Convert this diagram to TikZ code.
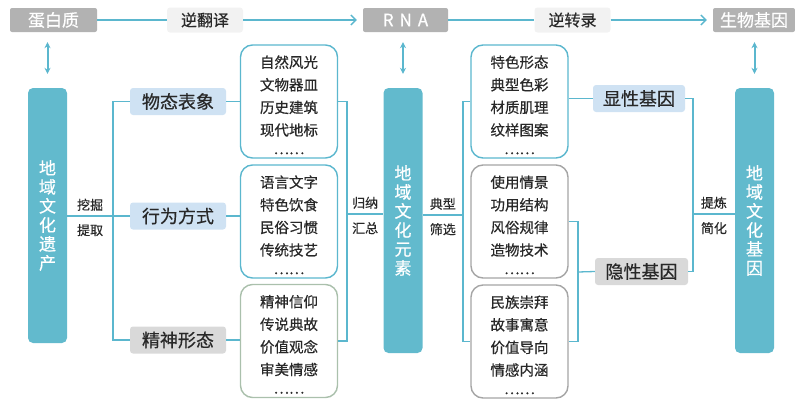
\documentclass[tikz,border=0pt]{standalone}
\usepackage{fontspec}
\setmainfont{Noto Sans CJK SC}[FakeBold=0.5]
\usetikzlibrary{arrows.meta,positioning,calc}
\definecolor{barTeal}{RGB}{98,186,205}
\definecolor{lineTeal}{RGB}{91,183,206}
\definecolor{catBlue}{RGB}{207,226,243}
\definecolor{catGray}{RGB}{217,217,217}
\definecolor{topGray}{RGB}{178,178,178}
\definecolor{lblGray}{RGB}{242,242,242}
\definecolor{boxGreen}{RGB}{170,192,172}
\definecolor{boxGray}{RGB}{165,165,165}
\definecolor{ink}{RGB}{40,40,40}

\tikzset{
  topbox/.style={fill=topGray, text=white, rounded corners=2pt, minimum height=24pt, inner sep=0pt, font=\fontsize{17}{20}\selectfont},
  steplabel/.style={fill=lblGray, text=ink, rounded corners=3pt, minimum width=76pt, minimum height=25pt, inner sep=0pt, font=\fontsize{16}{18}\selectfont},
  bar/.style={fill=barTeal, text=white, rounded corners=5pt, minimum width=39pt, inner sep=0pt, align=center, font=\fontsize{17}{#1}\selectfont},
  cat/.style={fill=#1, text=ink, rounded corners=3pt, minimum width=96pt, minimum height=27pt, inner sep=0pt, font=\fontsize{18}{20}\selectfont},
  listbox/.style={draw=#1, line width=1.4pt, fill=white, text=ink, rounded corners=12pt, minimum width=97pt, minimum height=113pt, inner sep=0pt, align=center, font=\fontsize{14.5}{22.6}\selectfont},
  link/.style={draw=lineTeal, line width=1.3pt},
  dbl/.style={draw=lineTeal, line width=2pt, {Stealth[length=6pt,width=6pt]}-{Stealth[length=6pt,width=6pt]}},
  side/.style={text=ink, inner sep=0pt, font=\fontsize{13}{15}\selectfont}
}

\begin{document}
\begin{tikzpicture}[x=1pt,y=-1pt]
\useasboundingbox (0,0) rectangle (795,399);

% draw the top row
\node[topbox, minimum width=87pt] (prot) at (53.5,20) {蛋白质};
\node[topbox, minimum width=85pt] (rna) at (405.5,20) {R\hspace{6pt}N\hspace{6pt}A};
\node[topbox, minimum width=82pt] (gene) at (754,20) {生物基因};
\node[steplabel] (fan) at (205,20) {逆翻译};
\node[steplabel] (zhuan) at (572.5,20) {逆转录};
\draw[link] (prot) -- (fan);
\draw[link, -{Straight Barb[length=5pt]}, shorten >=6pt] (fan) -- (rna);
\draw[link] (rna) -- (zhuan);
\draw[link, -{Straight Barb[length=5pt]}, shorten >=6pt] (zhuan) -- (gene);

% the three bars
\node[bar=19, minimum height=255pt] (herit) at (47.5,215.5) {地\\域\\文\\化\\遗\\产};
\node[bar=19, minimum height=265pt] (elem) at (403,220.5) {地\\域\\文\\化\\元\\素};
\node[bar=19, minimum height=265pt] (gbar) at (754.5,220.5) {地\\域\\文\\化\\基\\因};

\draw[dbl, shorten <=10pt, shorten >=14pt] (prot.south -| herit.north) -- (herit.north);
\draw[dbl, shorten <=10pt, shorten >=14pt] (rna.south -| elem.north) -- (elem.north);
\draw[dbl, shorten <=10pt, shorten >=14pt] (gene.south -| gbar.north) -- (gbar.north);

% categories
\node[cat=catBlue] (c1) at (178,101.5) {物态表象};
\node[cat=catBlue] (c2) at (178,216) {行为方式};
\node[cat=catGray] (c3) at (178,340) {精神形态};
\node[cat=catBlue, minimum width=92pt] (g1) at (639,98.5) {显性基因};
\node[cat=catGray, minimum width=93pt] (g2) at (641.5,271.5) {隐性基因};

% the element lists
\foreach \nm/\cx/\cy/\clr/\items in {
  b1/289/101.5/lineTeal/{自然风光\\文物器皿\\历史建筑\\现代地标\\[-4pt]……},
  b2/289/221.5/lineTeal/{语言文字\\特色饮食\\民俗习惯\\传统技艺\\[-4pt]……},
  b3/289/341/boxGreen/{精神信仰\\传说典故\\价值观念\\审美情感\\[-4pt]……},
  b4/519.5/101.5/lineTeal/{特色形态\\典型色彩\\材质肌理\\纹样图案\\[-4pt]……},
  b5/519.5/221.5/boxGray/{使用情景\\功用结构\\风俗规律\\造物技术\\[-4pt]……},
  b6/519.5/341.5/boxGray/{民族崇拜\\故事寓意\\价值导向\\情感内涵\\[-4pt]……}}
  \node[listbox=\clr] (\nm) at (\cx,\cy) {\rule{0pt}{19pt}\items};

% branch points
\coordinate (lj) at (113,216);
\coordinate (mj) at (347,214);
\coordinate (rj) at (463,215);
\coordinate (hj) at (578,272);
\coordinate (gj) at (693,214);

% heritage -> categories
\draw[link] (herit.east |- lj) -- (lj);
\draw[link] (c1.west) -| (lj) |- (c3.west);
\draw[link] (lj) -- (c2.west);
\node[side, above=5pt] (wa) at ($(herit.east |- lj)!0.5!(lj)$) {挖掘};
\node[side, below=8pt] (ti) at ($(herit.east |- lj)!0.5!(lj)$) {提取};

% categories -> lists
\draw[link] (c1.east) -- (c1.east -| b1.west);
\draw[link] (c2.east) -- (c2.east -| b2.west);
\draw[link] (c3.east) -- (c3.east -| b3.west);

% lists -> elements
\draw[link] (b1.east) -| (mj) |- (b3.east);
\draw[link] (mj) -- (mj -| elem.west);
\node[side, above=5pt] (gui) at ($(mj)!0.5!(mj -| elem.west)$) {归纳};
\node[side, below=8pt] (hui) at ($(mj)!0.5!(mj -| elem.west)$) {汇总};

% elements -> gene lists
\draw[link] (elem.east |- rj) -- (rj);
\draw[link] (b4.west) -| (rj) |- (b6.west);
\node[side, above=5pt] (dian) at ($(elem.east |- rj)!0.5!(rj)$) {典型};
\node[side, below=8pt] (shai) at ($(elem.east |- rj)!0.5!(rj)$) {筛选};

% lists -> explicit / implicit genes
\draw[link] (g1.west -| b4.east) -- (g1.west);
\draw[link] (b5.east) -| (hj) |- (b6.east);
\draw[link] (hj) -- (g2.west);

% genes -> gene bar
\draw[link] (g1.east) -| (gj) |- (g2.east);
\draw[link] (gj) -- (gj -| gbar.west);
\node[side, above=5pt] (lian) at ($(gj)!0.5!(gj -| gbar.west)$) {提炼};
\node[side, below=8pt] (jian) at ($(gj)!0.5!(gj -| gbar.west)$) {简化};

\end{tikzpicture}
\end{document}
